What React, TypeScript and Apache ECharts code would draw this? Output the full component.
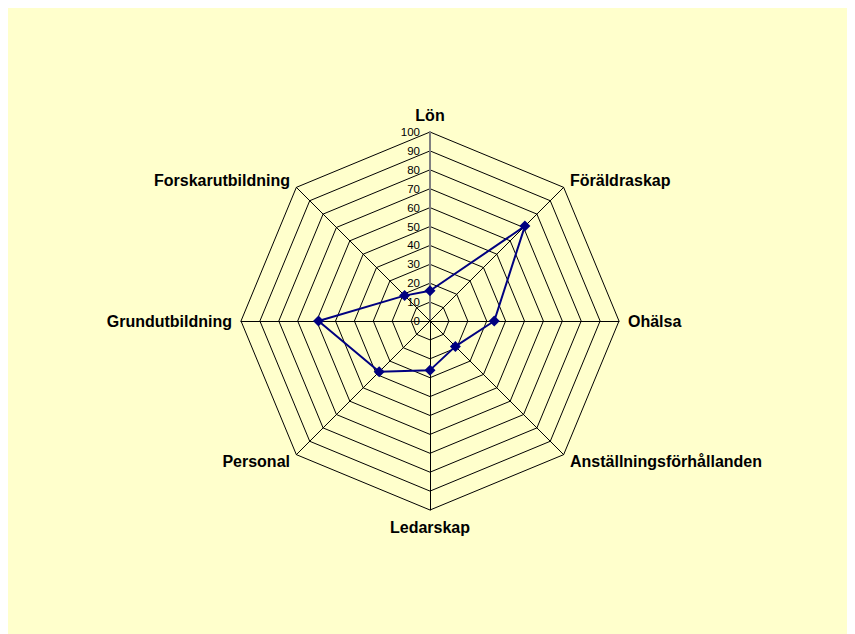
import React, { useEffect, useRef } from "react";
import * as echarts from "echarts";

const categories = [
  "Lön",
  "Föräldraskap",
  "Ohälsa",
  "Anställningsförhållanden",
  "Ledarskap",
  "Personal",
  "Grundutbildning",
  "Forskarutbildning",
];
const values = [16, 71, 34, 19, 26, 38, 59, 19];
const axisMax = 100;
const axisInterval = 10;

export default function App() {
  const ref = useRef<HTMLDivElement>(null);
  useEffect(() => {
    if (!ref.current) return;
    const chart = echarts.init(ref.current, null, { renderer: "svg" });
    // ECharts radar runs counter-clockwise; reorder so the chart reads clockwise
    const order = categories.map((_, i) => (i === 0 ? 0 : categories.length - i));
    chart.setOption({
      animation: false,
      backgroundColor: "#FFFFCC",
      radar: {
        center: [422, 313],
        radius: 189,
        startAngle: 90,
        shape: "polygon",
        splitNumber: axisMax / axisInterval,
        nameGap: 9,
        axisName: {
          color: "#000",
          fontFamily: "Liberation Sans, Arial, sans-serif",
          fontWeight: "bold",
          fontSize: 16,
        },
        splitArea: { show: false },
        splitLine: { lineStyle: { color: "#000", width: 1 } },
        axisLine: { lineStyle: { color: "#000", width: 1 } },
        axisTick: { show: false },
        axisLabel: { show: false },
        indicator: order.map((idx, i) =>
          i === 0
            ? {
                name: categories[idx],
                min: 0,
                max: axisMax,
                axisLine: { lineStyle: { color: "#808080", width: 2 } },
                axisLabel: {
                  show: true,
                  color: "#000",
                  fontSize: 11.5,
                  fontFamily: "Liberation Sans, Arial, sans-serif",
                  margin: 10,
                },
              }
            : { name: categories[idx], min: 0, max: axisMax }
        ),
      },
      series: [
        {
          type: "radar",
          symbol: "diamond",
          symbolSize: 11,
          lineStyle: { color: "#000080", width: 2 },
          itemStyle: { color: "#000080" },
          data: [{ value: order.map((idx) => values[idx]), name: "Serie 1" }],
        },
      ],
    });
    return () => chart.dispose();
  }, []);
  return <div ref={ref} style={{ width: 847, height: 626 }} />;
}
